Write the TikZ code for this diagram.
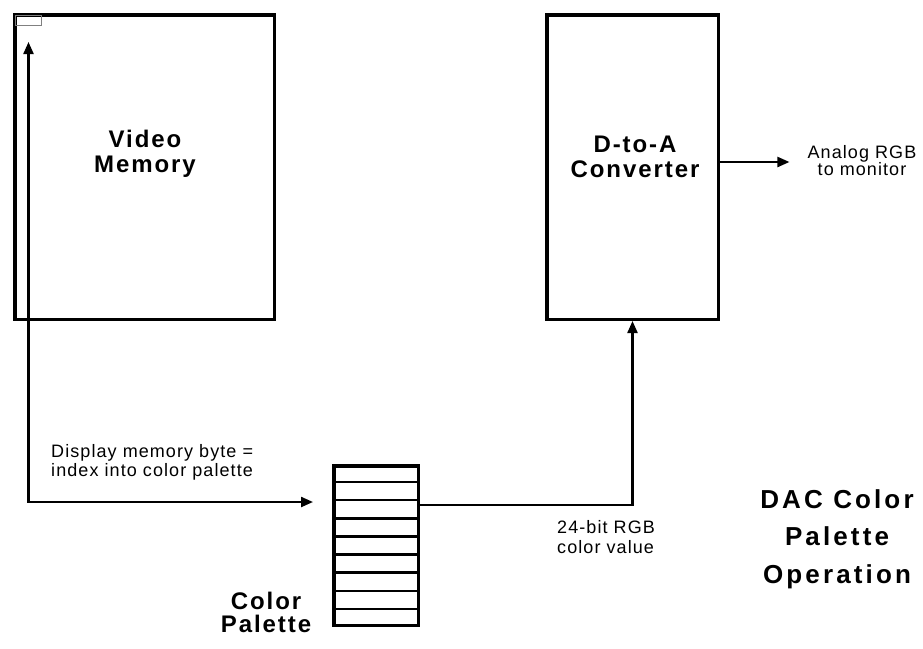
\documentclass[tikz,border=0pt]{standalone}
\usepackage{fontspec}
\setmainfont{Liberation Sans}
\newfontfamily\lblfont{Liberation Sans}[LetterSpace=6]
\newfontfamily\ttlfont{Liberation Sans}[LetterSpace=8]
\newfontfamily\headfont{Liberation Sans}[LetterSpace=12]
\usetikzlibrary{arrows.meta,calc,positioning}

\begin{document}
\begin{tikzpicture}[x=1pt, y=-1pt,
  >={Triangle[length=12pt,width=10pt]},
  box/.style={draw, line width=3.5pt, inner sep=0pt},
  title/.style={font=\ttlfont\bfseries\fontsize{24}{25}\selectfont, align=center, inner sep=0pt},
  lbl/.style={font=\lblfont\fontsize{18}{19}\selectfont, inner sep=0pt},
  link/.style={line width=2.2pt}]

\useasboundingbox (0,0) rectangle (923,648);

% memory, converter and palette blocks
\node[box, minimum width=259.5pt, minimum height=304.5pt] (vmem) at (144.5,167) {};
\node[box, minimum width=171.5pt, minimum height=304.5pt] (dac) at (632.5,167) {};
\node[draw=gray, line width=1.2pt, minimum width=25.8pt, minimum height=9.8pt, inner sep=0pt] (cell) at (28.5,20.5) {};
\node[box, minimum width=84.5pt, minimum height=159.5pt] (pal) at (376,545.5) {};
\foreach \i in {1,...,8} {\draw[line width=2.5pt] ($(pal.north west)!\i/9!(pal.south west)$) -- ($(pal.north east)!\i/9!(pal.south east)$);}

% titles
\node[title] (vmemtxt) at (145,153.5) {Video\\Memory};
\node[title] (dactxt) at (635,157) {D-to-A\\Converter};
\node[title, font=\ttlfont\bfseries\fontsize{24}{23}\selectfont] (paltxt) at (266,612) {Color\\Palette};
\node[title, font=\headfont\bfseries\fontsize{26}{37.5}\selectfont] (head) at (837,539) {DAC Color\\Palette\\Operation};

% labels
\node[lbl, align=left, anchor=north west] (idxtxt) at (51,444) {Display memory byte =\\index into color palette};
\node[lbl, align=left, anchor=north west, font=\lblfont\fontsize{18}{20}\selectfont] (rgbtxt) at (557,520) {24-bit RGB\\color value};
\node[lbl, align=center, anchor=north, font=\lblfont\fontsize{18}{17}\selectfont] (anatxt) at (862,145) {Analog RGB\\to monitor};

% connectors
\draw[link, <->, shorten <=16pt, shorten >=19pt] (cell.south) |- ($(pal.north west)+(0,38)$);
\draw[link, ->] ($(pal.north east)+(0,41)$) -| (dac.south);
\coordinate (dacout) at ($(dac.east)+(0,-5)$);
\draw[link, ->, shorten >=18pt] (dacout) -- (dacout -| anatxt.west);
\end{tikzpicture}
\end{document}
